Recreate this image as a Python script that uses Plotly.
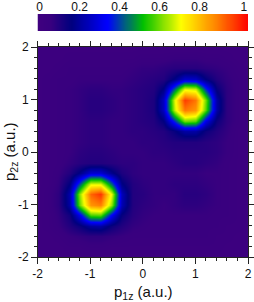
import plotly.graph_objects as go

axis_vals = [-2.0,-1.8,-1.6,-1.4,-1.2,-1.0,-0.8,-0.6,-0.4,-0.2,0.0,0.2,0.4,0.6,0.8,1.0,1.2,1.4,1.6,1.8,2.0]
bar_x = [0,0.02,0.04,0.06,0.08,0.1,0.12,0.14,0.16,0.18,0.2,0.22,0.24,0.26,0.28,0.3,0.32,0.34,0.36,0.38,0.4,0.42,0.44,0.46,0.48,0.5,
         0.52,0.54,0.56,0.58,0.6,0.62,0.64,0.66,0.68,0.7,0.72,0.74,0.76,0.78,0.8,0.82,0.84,0.86,0.88,0.9,0.92,0.94,0.96,0.98,1.0]
bar_ticks = [0.01,0.2,0.39,0.58,0.77,0.98]
bar_labels = ["0","0.2","0.4","0.6","0.8","1"]
major_ticks = [-2,-1,0,1,2]
major_labels = ["-2","-1","0","1","2"]
z_rows = [
 [.03,.03,.03,.03,.03,.03,.03,.03,.03,.03,.03,.03,.03,.03,.03,.03,.03,.03,.03,.03,.03],
 [.03,.03,.03,.04,.04,.05,.05,.04,.04,.04,.04,.04,.04,.04,.04,.04,.04,.04,.03,.03,.03],
 [.03,.03,.04,.06,.07,.08,.08,.07,.06,.05,.05,.05,.05,.05,.05,.05,.05,.04,.04,.03,.03],
 [.03,.04,.06,.10,.14,.20,.21,.14,.10,.07,.06,.05,.05,.05,.05,.05,.05,.05,.04,.04,.03],
 [.03,.04,.07,.13,.30,.55,.56,.32,.15,.09,.07,.06,.06,.06,.06,.06,.06,.05,.05,.04,.03],
 [.03,.05,.08,.21,.57,.82,.85,.60,.23,.10,.08,.07,.06,.07,.08,.08,.07,.06,.05,.04,.03],
 [.03,.05,.08,.22,.60,.88,.94,.66,.24,.10,.09,.07,.07,.07,.09,.09,.08,.06,.05,.04,.03],
 [.03,.04,.07,.16,.40,.66,.66,.42,.17,.10,.08,.07,.07,.08,.08,.08,.07,.06,.05,.04,.03],
 [.03,.04,.06,.10,.17,.27,.27,.18,.11,.08,.07,.07,.07,.07,.07,.07,.06,.06,.05,.04,.03],
 [.03,.04,.05,.07,.09,.10,.10,.09,.08,.08,.07,.07,.07,.08,.09,.09,.08,.07,.05,.04,.03],
 [.03,.04,.05,.06,.08,.09,.09,.08,.07,.07,.07,.08,.08,.09,.09,.09,.09,.08,.06,.04,.03],
 [.03,.04,.05,.06,.07,.08,.08,.07,.07,.07,.08,.08,.09,.10,.10,.10,.09,.08,.06,.04,.03],
 [.03,.04,.05,.06,.07,.08,.08,.07,.07,.08,.08,.09,.10,.15,.21,.21,.14,.10,.07,.04,.03],
 [.03,.04,.05,.06,.07,.08,.08,.07,.07,.08,.09,.10,.16,.37,.58,.56,.30,.14,.08,.05,.03],
 [.03,.04,.05,.06,.07,.09,.09,.08,.07,.08,.09,.11,.25,.64,.86,.82,.56,.21,.08,.05,.03],
 [.03,.04,.05,.06,.07,.09,.09,.08,.07,.08,.09,.11,.25,.66,.93,.86,.58,.21,.08,.05,.03],
 [.03,.04,.05,.06,.07,.08,.08,.07,.07,.08,.09,.10,.17,.42,.66,.64,.37,.15,.08,.05,.03],
 [.03,.04,.05,.05,.06,.06,.06,.06,.06,.07,.08,.09,.10,.17,.26,.25,.16,.10,.07,.05,.03],
 [.03,.03,.04,.05,.05,.05,.05,.05,.05,.06,.07,.07,.08,.09,.09,.09,.08,.07,.06,.04,.03],
 [.03,.03,.03,.04,.04,.04,.04,.04,.04,.04,.05,.05,.05,.06,.06,.06,.05,.05,.04,.03,.03],
 [.03,.03,.03,.03,.03,.03,.03,.03,.03,.03,.03,.03,.03,.03,.03,.03,.03,.03,.03,.03,.03],
]
colors = [[0,"#40007f"],[0.06,"#38007f"],[0.16,"#00007f"],[0.33,"#0000ff"],[0.5,"#00c000"],
          [0.68,"#ffff00"],[0.85,"#ff8000"],[1,"#ff0000"]]

fig = go.Figure()
fig.add_trace(go.Heatmap(x=axis_vals, y=axis_vals, z=z_rows, zmin=0, zmax=1, colorscale=colors,
                         zsmooth="best", showscale=False, xaxis="x", yaxis="y", hoverinfo="skip"))
fig.add_trace(go.Heatmap(x=bar_x, y=[0,1], z=[bar_x,bar_x], zmin=0, zmax=1, colorscale=colors,
                         zsmooth="best", showscale=False, xaxis="x2", yaxis="y2", hoverinfo="skip"))
# empty trace that carries the top and right tick axes
fig.add_trace(go.Scatter(x=[], y=[], xaxis="x3", yaxis="y3", hoverinfo="skip"))
W, H = 254, 302
L, R, T, B = 37.5, 248, 47, 257
ax_w = R - L
ax_h = B - T
FAM = "Liberation Sans, Arial, sans-serif"
font = dict(family=FAM, size=12, color="#111111")
common = dict(ticks="outside", ticklen=5.5, tickwidth=1, tickcolor="#222222", showgrid=False, zeroline=False,
              showline=True, linecolor="#222222", linewidth=1, automargin=False,
              minor=dict(ticks="outside", ticklen=3, tickwidth=1, tickcolor="#222222", dtick=0.2, showgrid=False),
              tickfont=font)
title_font = dict(size=15, family=FAM, color="#111111")
xdom = [L/W, R/W]
ydom = [1-B/H, 1-T/H]
fig.update_layout(
    width=W, height=H, margin=dict(l=0, r=0, t=0, b=0, autoexpand=False), paper_bgcolor="white", plot_bgcolor="white",
    showlegend=False, font=font,
    xaxis=dict(domain=xdom, range=[-2,2], tickvals=major_ticks, ticktext=major_labels, anchor="y", **common),
    yaxis=dict(domain=ydom, range=[-2,2], tickvals=major_ticks, ticktext=major_labels, anchor="x", **common),
    xaxis3=dict(domain=xdom, range=[-2,2], tickvals=major_ticks, showticklabels=False, side="top", anchor="y3", overlaying="x", **common),
    yaxis3=dict(domain=ydom, range=[-2,2], tickvals=major_ticks, showticklabels=False, side="right", anchor="x3", overlaying="y", **common),
    xaxis2=dict(domain=xdom, range=[0,1], side="top", anchor="y2", tickvals=bar_ticks, ticktext=bar_labels,
                ticks="", showline=False, showgrid=False, zeroline=False, tickfont=font, automargin=False),
    yaxis2=dict(domain=[1-31/H, 1-14/H], range=[0,1], anchor="x2", showticklabels=False, ticks="",
                showline=False, showgrid=False, zeroline=False, automargin=False),
    annotations=[
        dict(text="p<sub>1z</sub> (a.u.)", xref="x domain", yref="y domain", x=(143-L)/ax_w, y=(B-292)/ax_h,
             xanchor="center", yanchor="middle", showarrow=False, font=title_font),
        dict(text="p<sub>2z</sub> (a.u.)", xref="x domain", yref="y domain", x=(10-L)/ax_w, y=(B-151)/ax_h,
             xanchor="center", yanchor="middle", textangle=-90, showarrow=False, font=title_font),
    ],
)
fig.write_html("out.html", config=dict(displayModeBar=False),
               post_script="document.body.style.margin='0';document.documentElement.style.overflow='hidden';")
